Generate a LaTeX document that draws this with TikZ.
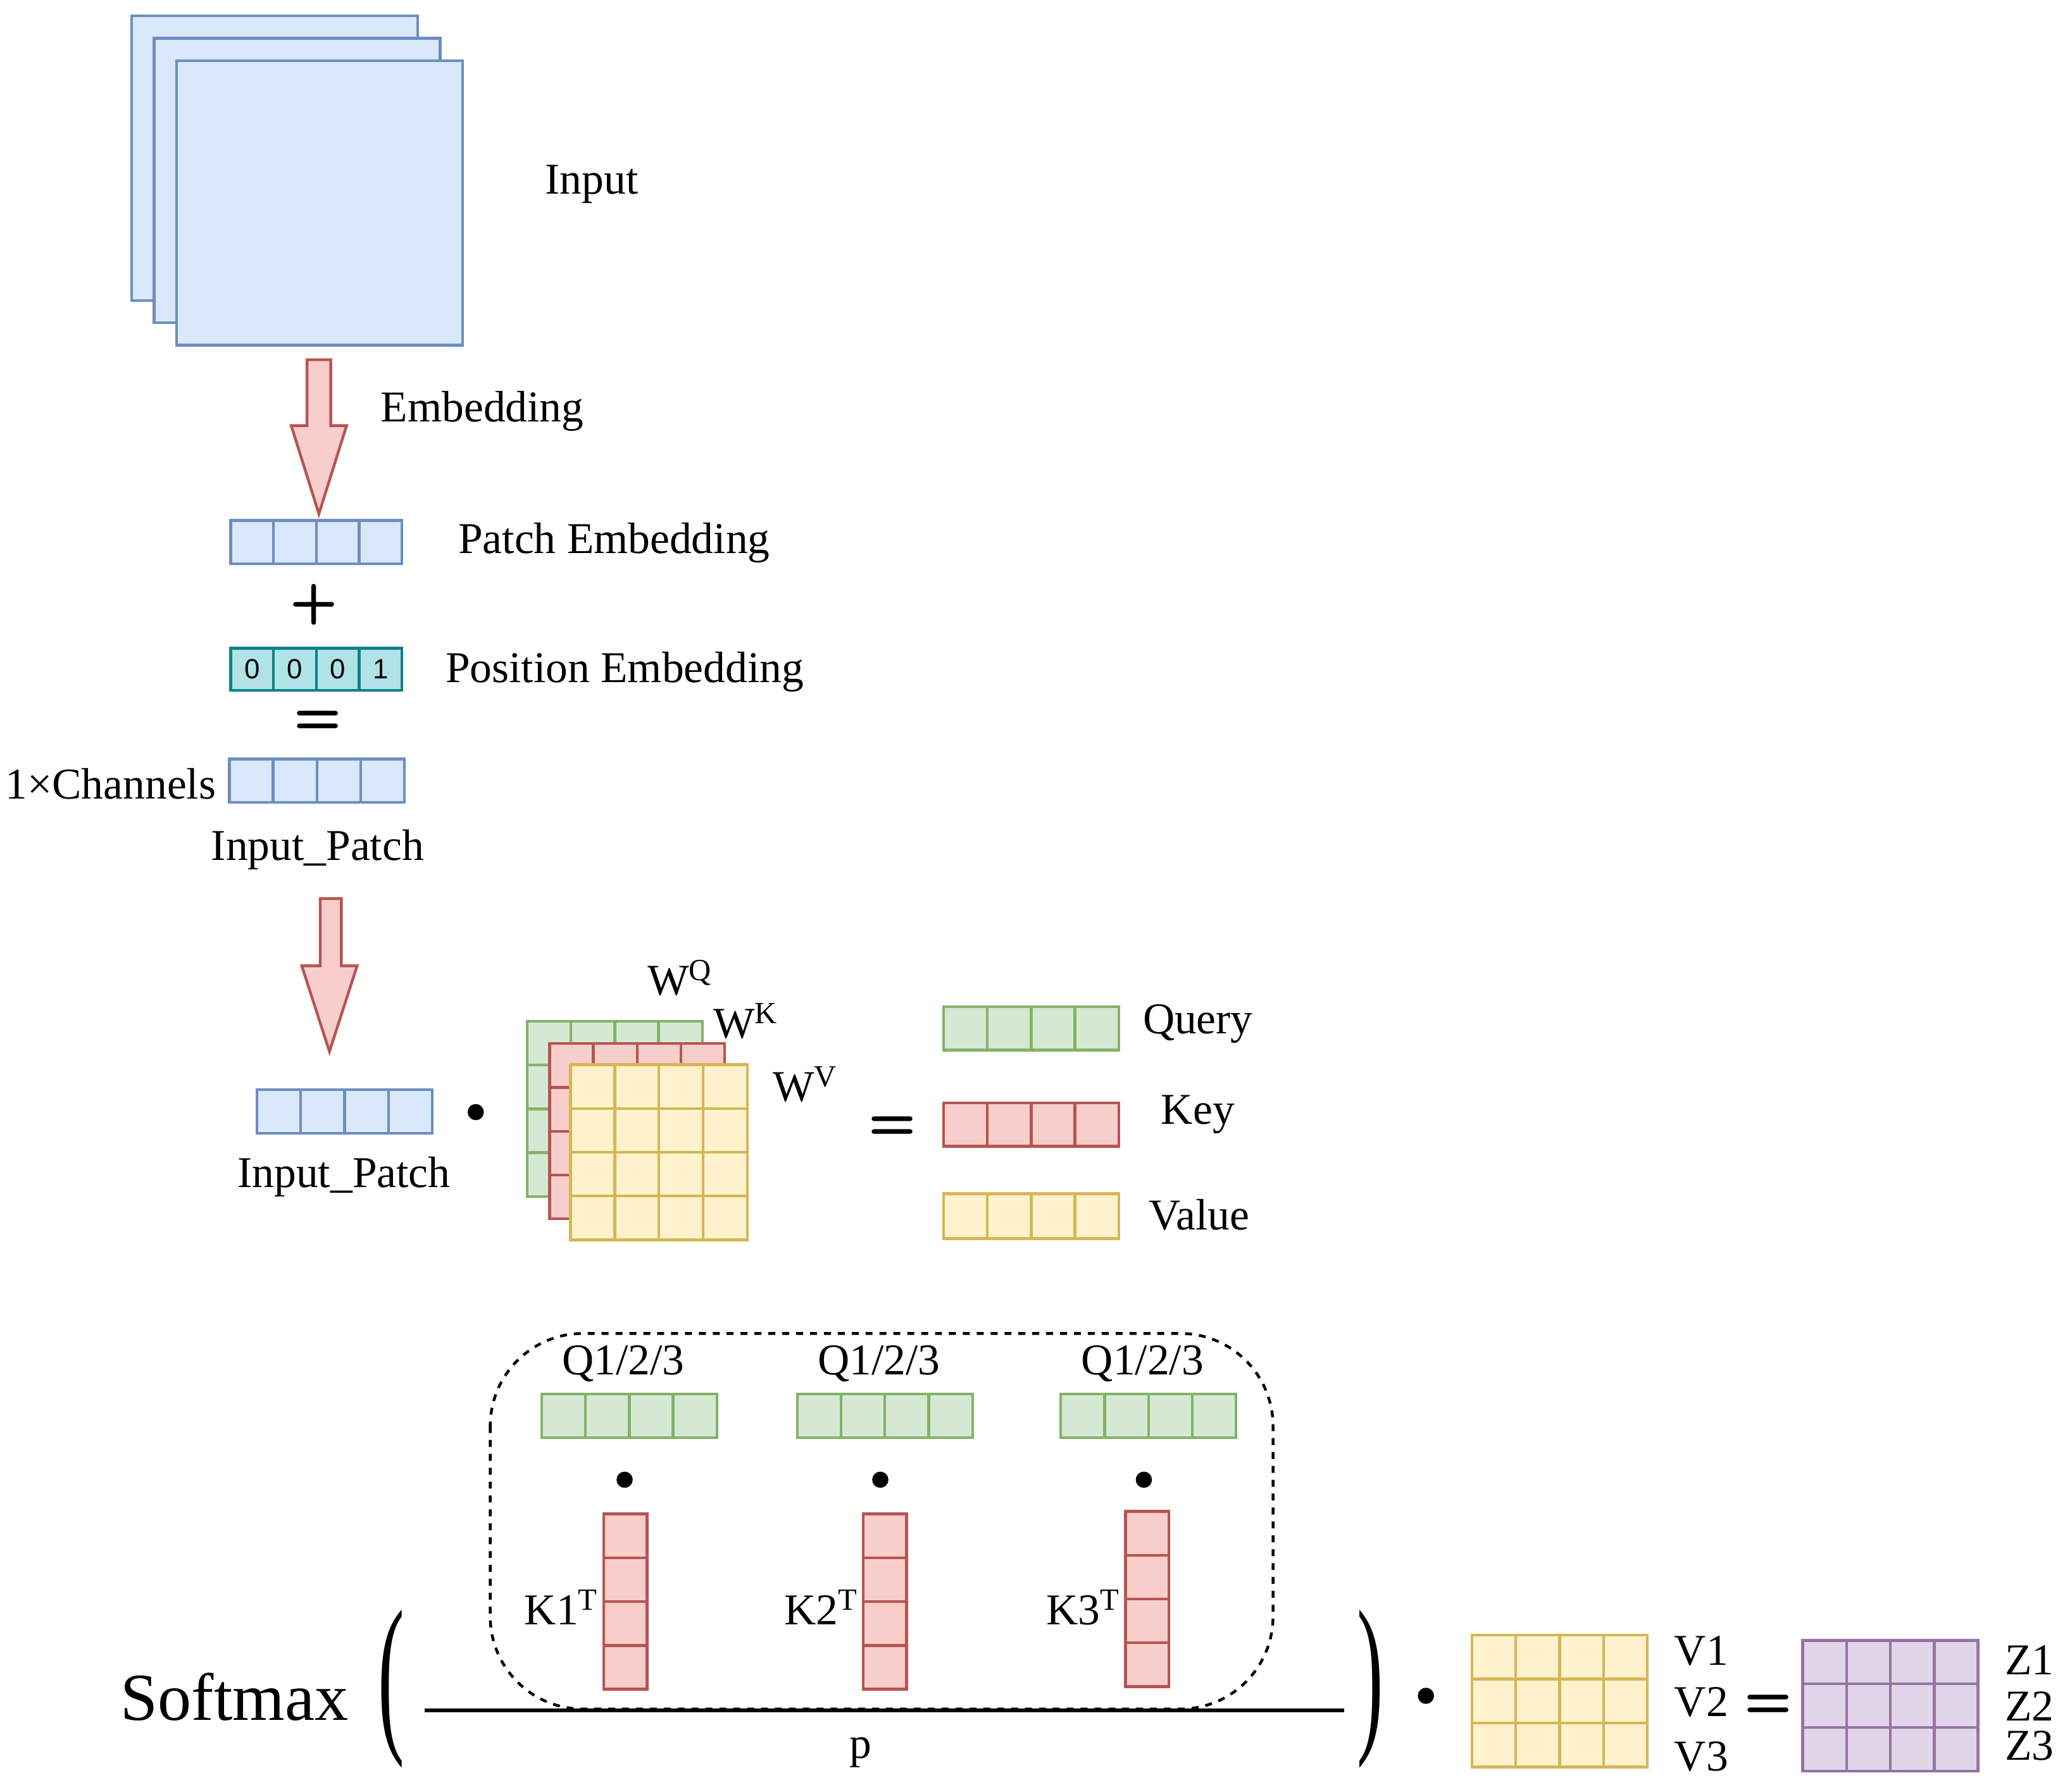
\documentclass[tikz,border=0pt]{standalone}
\usepackage{fontspec}
\setmainfont{Liberation Serif}
\newfontfamily\sansf{Liberation Sans}
\usetikzlibrary{calc}
\definecolor{bfill}{HTML}{DAE8FC}\definecolor{bdraw}{HTML}{6C8EBF}
\definecolor{rfill}{HTML}{F8CECC}\definecolor{rdraw}{HTML}{B85450}
\definecolor{gfill}{HTML}{D5E8D4}\definecolor{gdraw}{HTML}{82B366}
\definecolor{yfill}{HTML}{FFF2CC}\definecolor{ydraw}{HTML}{D6B656}
\definecolor{tfill}{HTML}{B0E3E6}\definecolor{tdraw}{HTML}{0E8088}
\definecolor{pfill}{HTML}{E1D5E7}\definecolor{pdraw}{HTML}{9673A6}
\newcommand{\cellgrid}[7]{%
  \fill[#7fill] (#1,#2) rectangle (#3,#4);
  \foreach \i in {1,...,#5}{\draw[#7draw,line width=1.2pt] ($(#1,#2)!{(\i-1)/#5}!(#3,#2)$) -- ($(#1,#4)!{(\i-1)/#5}!(#3,#4)$);}
  \foreach \j in {1,...,#6}{\draw[#7draw,line width=1.2pt] ($(#1,#2)!{(\j-1)/#6}!(#1,#4)$) -- ($(#3,#2)!{(\j-1)/#6}!(#3,#4)$);}
  \draw[#7draw,line width=1.2pt] (#1,#2) rectangle (#3,#4);}
\tikzset{lbl/.style={font=\fontsize{19}{22}\selectfont,inner sep=0pt},
  bigarrow/.style={fill=rfill,draw=rdraw,line width=1.2pt},
  op/.style={font=\fontsize{24}{24}\bfseries\sffamily},
  dotn/.style={circle,fill=black,inner sep=0pt,minimum size=7pt}}
\begin{document}
\begin{tikzpicture}[x=0.02cm,y=-0.02cm]
\useasboundingbox (0,0) rectangle (1567,1360);
\foreach \o in {0,17,34}{\draw[fill=bfill,draw=bdraw,line width=1.2pt] (100+\o,12+\o) rectangle (317+\o,228+\o);}
\node[lbl] (input) at (449,140) {Input};
\draw[bigarrow] (233,273) -- (251,273) -- (251,323) -- (263,323) -- (242,390) -- (221,323) -- (233,323) -- cycle;
\node[lbl] (emb) at (366,312) {Embedding};
\cellgrid{175}{395}{305}{428}{4}{1}{b}
\node[lbl] (pe) at (466,412) {Patch Embedding};
\node[op] (plus) at (238,459) {+};
\cellgrid{175}{492}{305}{524}{4}{1}{t}
\foreach \k/\v in {1/0,2/0,3/0,4/1}{\node[font=\sansf\fontsize{12}{12}\selectfont] (pos\k) at (175+32.5*\k-16.25,508) {\v};}
\node[lbl] (poe) at (474,510) {Position Embedding};
\node[op] (eq1) at (241,548) {=};
\cellgrid{174}{576}{307}{609}{4}{1}{b}
\node[lbl] (ch) at (84,595) {1×Channels};
\node[lbl] (ip1) at (241,645) {Input\_Patch};
\draw[bigarrow] (243,682) -- (259,682) -- (259,733) -- (271,733) -- (250,798) -- (229,733) -- (243,733) -- cycle;
\cellgrid{195}{827}{328}{860}{4}{1}{b}
\node[dotn] (dot1) at (361,844) {};
\node[lbl] (ip2) at (261,893) {Input\_Patch};
\cellgrid{400}{775}{533}{908}{4}{4}{g}
\cellgrid{417}{792}{550}{925}{4}{4}{r}
\cellgrid{433}{808}{567}{941}{4}{4}{y}
\node[lbl] (wq) at (516,742) {W\textsuperscript{Q}};
\node[lbl] (wk) at (566,775) {W\textsuperscript{K}};
\node[lbl] (wv) at (611,823) {W\textsuperscript{V}};
\node[op] (eq2) at (677,856) {=};
\cellgrid{716}{764}{849}{797}{4}{1}{g}
\cellgrid{716}{837}{849}{870}{4}{1}{r}
\cellgrid{716}{906}{849}{940}{4}{1}{y}
\node[lbl] (q) at (909,777) {Query};
\node[lbl] (k) at (909,846) {Key};
\node[lbl] (v) at (910,922) {Value};
\draw[dashed,line width=1.2pt,rounded corners=40] (372,1012) rectangle (966,1297);
\foreach \n/\x/\kx/\ky in {1/411/458/1149,2/605/655/1149,3/805/854/1147}{
  \node[lbl] (ql\n) at (\x+62,1035) {Q1/2/3};
  \cellgrid{\x}{1058}{\x+133}{1091}{4}{1}{g}
  \node[dotn] (d\n) at (\x+63,1123) {};
  \cellgrid{\kx}{\ky}{\kx+33}{\ky+133}{1}{4}{r}
  \node[lbl] (kl\n) at (\kx-32,1220) {K\n\textsuperscript{T}};
}
\node[font=\fontsize{29}{32}\selectfont,inner sep=0pt] (soft) at (178,1288) {Softmax};
\node[inner sep=0pt] (lp) at (297,1282) {\resizebox*{0.4cm}{2.4cm}{(}};
\node[inner sep=0pt] (rp) at (1040,1282) {\resizebox*{0.4cm}{2.4cm}{)}};
\coordinate (fl) at (322,1298); \coordinate (fr) at (1020,1298);
\draw[line width=1.6pt] (fl) -- (fr);
\node[lbl] (p) at (653,1330) {p};
\node[dotn] (dot2) at (1082,1287) {};
\cellgrid{1117}{1241}{1250}{1341}{4}{3}{y}
\node[lbl] (v1) at (1291,1253) {V1};
\node[lbl] (v2) at (1291,1292) {V2};
\node[lbl] (v3) at (1291,1333) {V3};
\node[op] (eq3) at (1342,1295) {=};
\cellgrid{1368}{1245}{1501}{1344}{4}{3}{p}
\node[lbl] (z1) at (1540,1260) {Z1};
\node[lbl] (z2) at (1540,1295) {Z2};
\node[lbl] (z3) at (1540,1325) {Z3};
\end{tikzpicture}
\end{document}
